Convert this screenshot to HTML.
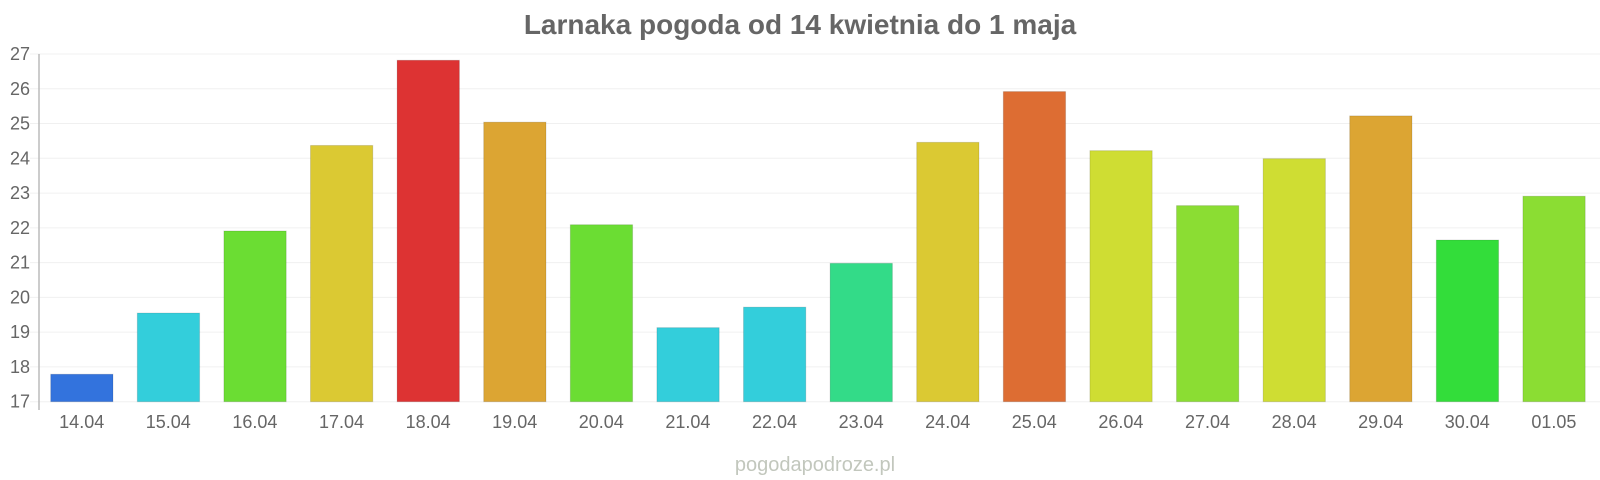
<!DOCTYPE html>
<html><head><meta charset="utf-8"><style>
html,body{margin:0;padding:0;background:#fff;width:1600px;height:480px;overflow:hidden}
</style></head><body>
<svg width="1600" height="480" xmlns="http://www.w3.org/2000/svg" font-family="Liberation Sans, Arial, sans-serif">
<text x="800" y="34" text-anchor="middle" font-size="28" font-weight="bold" fill="#666">Larnaka pogoda od 14 kwietnia do 1 maja</text>
<g id="grid"></g>
<g id="bars"></g>
<line x1="39" y1="54" x2="39" y2="410" stroke="#bbb" stroke-width="1.5"/>
<text x="815" y="471" text-anchor="middle" font-size="20" fill="#c2c7bd">pogodapodroze.pl</text>
<script>
var g=document.getElementById('grid'),b=document.getElementById('bars'),ns='http://www.w3.org/2000/svg';
function Y(v){return 401.7-(v-17)*34.77;}
function el(p,t,a,txt){var e=document.createElementNS(ns,t);for(var k in a)e.setAttribute(k,a[k]);if(txt)e.textContent=txt;p.appendChild(e);}
for(var v=17;v<=27;v++){var y=Y(v);el(g,'line',{x1:30,x2:1600,y1:y,y2:y,stroke:'#f0f0f0','stroke-width':1});el(g,'text',{x:30,y:y+6,'text-anchor':'end','font-size':18,fill:'#666'},String(v));}
var d=[["14.04",17.79,"#3373dd"],["15.04",19.55,"#33cedb"],["16.04",21.91,"#6bdd33"],["17.04",24.37,"#dbc933"],["18.04",26.82,"#dd3333"],["19.04",25.04,"#dca533"],["20.04",22.09,"#6bdd33"],["21.04",19.13,"#33cedb"],["22.04",19.72,"#33cedb"],["23.04",20.98,"#33db88"],["24.04",24.46,"#dbc933"],["25.04",25.92,"#dd6d33"],["26.04",24.22,"#cfdd33"],["27.04",22.64,"#8bdd33"],["28.04",23.99,"#cfdd33"],["29.04",25.22,"#dca533"],["30.04",21.65,"#33dd3a"],["01.05",22.91,"#8bdd33"]];
d.forEach(function(r,i){var x=50.7+i*86.6,y=Y(r[1]);el(b,'rect',{x:x,y:y,width:62.3,height:401.7-y,fill:r[2],stroke:'rgba(0,0,0,0.12)','stroke-width':1});el(b,'text',{x:x+31,y:428,'text-anchor':'middle','font-size':18,fill:'#666'},r[0]);});
</script>
</svg>
</body></html>
